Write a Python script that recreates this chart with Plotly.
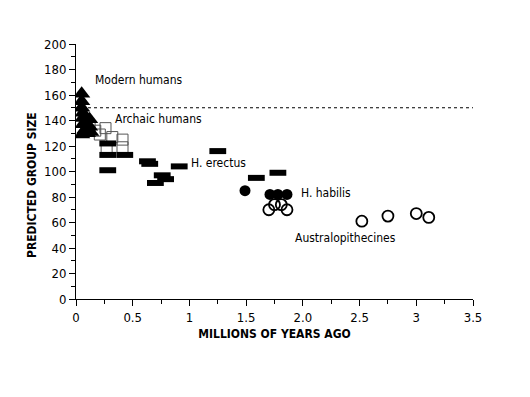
import plotly.graph_objects as go

# Data
modern_x = [0.05, 0.05, 0.05, 0.06, 0.06, 0.06, 0.05, 0.08, 0.12, 0.12, 0.10, 0.13]
modern_y = [161, 155, 150, 146, 142, 137, 129, 133, 141, 135, 130, 131]

archaic_x = [0.12, 0.17, 0.21, 0.26, 0.32, 0.41, 0.41, 0.27]
archaic_y = [136, 132, 129, 134, 127, 125, 119, 118]

erectus_x = [0.28, 0.28, 0.28, 0.43, 0.63, 0.65, 0.70, 0.76, 0.79, 0.91, 1.25, 1.59, 1.78]
erectus_y = [122, 113, 101, 113, 108, 106, 91, 97, 94, 104, 116, 95, 99]

habilis_x = [1.49, 1.71, 1.78, 1.86]
habilis_y = [85, 82, 82, 82]

austral_x = [1.70, 1.75, 1.81, 1.86, 2.52, 2.75, 3.00, 3.11]
austral_y = [70, 74, 74, 70, 61, 65, 67, 64]

x_tickvals = [0, 0.5, 1, 1.5, 2, 2.5, 3, 3.5]
x_ticktext = ["0", "0.5", "1", "1.5", "2.0", "2.5", "3", "3.5"]
y_tickvals = [0, 20, 40, 60, 80, 100, 120, 140, 160, 180, 200]

threshold = 150

labels = [
    ("Modern humans", 0.15, 172),
    ("Archaic humans", 0.33, 141),
    ("H. erectus", 1.0, 107),
    ("H. habilis", 1.97, 83),
    ("Australopithecines", 1.91, 48),
]

FONT = "DejaVu Sans Condensed, Liberation Sans Narrow, Arial Narrow, sans-serif"

fig = go.Figure()

fig.add_trace(go.Scatter(
    x=[0, 3.5], y=[threshold, threshold], mode="lines",
    line=dict(color="black", width=1, dash="3px,3px"), hoverinfo="skip"))

fig.add_trace(go.Scatter(
    x=archaic_x, y=archaic_y, mode="markers",
    marker=dict(symbol="square-open", size=11, color="#555",
                line=dict(width=1, color="#555"))))

fig.add_trace(go.Scatter(
    x=erectus_x, y=erectus_y, mode="markers",
    marker=dict(symbol="line-ew", size=12, color="black",
                line=dict(width=6, color="black"))))

fig.add_trace(go.Scatter(
    x=modern_x, y=modern_y, mode="markers",
    marker=dict(symbol="triangle-up", size=15, color="black",
                line=dict(width=0))))

fig.add_trace(go.Scatter(
    x=habilis_x, y=habilis_y, mode="markers",
    marker=dict(symbol="circle", size=11, color="black")))

fig.add_trace(go.Scatter(
    x=austral_x, y=austral_y, mode="markers",
    marker=dict(symbol="circle-open", size=11, color="black",
                line=dict(width=1.8, color="black"))))

for text, x, y in labels:
    fig.add_annotation(x=x, y=y, text=text, showarrow=False,
                       xanchor="left", yanchor="middle",
                       font=dict(family=FONT, size=12, color="black"))

fig.add_annotation(
    xref="paper", yref="paper", x=0, y=0.447, xshift=-44,
    text="<b>PREDICTED GROUP SIZE</b>", textangle=-90, showarrow=False,
    xanchor="center", yanchor="middle",
    font=dict(family=FONT, size=12, color="black"))

fig.update_layout(
    width=530, height=397,
    margin=dict(l=68, r=65, t=36, b=106),
    paper_bgcolor="white", plot_bgcolor="white",
    showlegend=False,
    font=dict(family=FONT, size=13, color="black"),
)

fig.update_xaxes(
    range=[0, 3.5], tickvals=x_tickvals, ticktext=x_ticktext,
    showgrid=False, zeroline=False, showline=True, linecolor="black", linewidth=1,
    ticks="outside", ticklen=6, tickcolor="black",
    minor=dict(dtick=0.25, ticks="outside", ticklen=4, tickcolor="black", showgrid=False),
    title=dict(text="<b>MILLIONS OF YEARS AGO</b>", font=dict(family=FONT, size=12), standoff=6),
)
fig.update_yaxes(
    range=[0, 200], tickvals=y_tickvals,
    showgrid=False, zeroline=False, showline=True, linecolor="black", linewidth=1,
    ticks="outside", ticklen=6, tickcolor="black",
    minor=dict(dtick=10, ticks="outside", ticklen=4, tickcolor="black", showgrid=False),
)

fig.write_html("out.html")
